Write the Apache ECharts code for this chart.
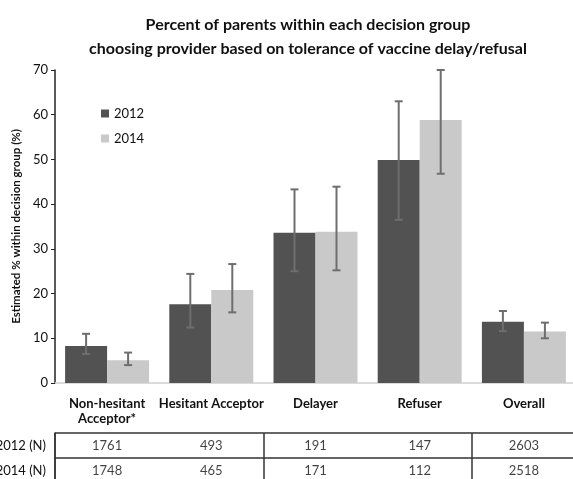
<!DOCTYPE html>
<html>
<head>
<meta charset="utf-8">
<script src="https://cdn.jsdelivr.net/npm/echarts@6/dist/echarts.min.js"></script>
<style>
  html, body { margin: 0; padding: 0; background: #fff; }
  #main { width: 573px; height: 479px; }
</style>
</head>
<body>
<div id="main"></div>
<script>
var categories = ["Non-hesitant\nAcceptor*", "Hesitant Acceptor", "Delayer", "Refuser", "Overall"];
var years = ["2012", "2014"];
var pct2012 = [8.3, 17.6, 33.6, 49.9, 13.7];
var pct2014 = [5.1, 20.8, 33.8, 58.8, 11.5];
// confidence interval bounds
var low2012 = [6.5, 12.4, 25.0, 36.5, 11.6];
var high2012 = [11.0, 24.4, 43.3, 63.0, 16.1];
var low2014 = [4.0, 15.8, 25.2, 46.8, 10.0];
var high2014 = [6.8, 26.6, 43.9, 70.0, 13.5];
// sample sizes for the table
var tableRows = ["2012 (N)", "2014 (N)"];
var n2012 = [1761, 493, 191, 147, 2603];
var n2014 = [1748, 465, 171, 112, 2518];
var yTicks = { min: 0, max: 70, interval: 10 };

var font = "Lato, 'Open Sans', sans-serif";

function errData(low, high) {
  return low.map(function (v, i) {
    return [i, v, high[i]];
  });
}

function errorBar(offset) {
  return function (params, api) {
    var x = api.coord([api.value(0), 0])[0] + offset;
    var lo = api.coord([api.value(0), api.value(1)])[1];
    var hi = api.coord([api.value(0), api.value(2)])[1];
    var cap = 4;
    var style = { stroke: "#6e6e6e", lineWidth: 2 };
    return {
      type: "group",
      children: [
        { type: "line", shape: { x1: x, y1: hi, x2: x, y2: lo }, style: style },
        { type: "line", shape: { x1: x - cap, y1: hi, x2: x + cap, y2: hi }, style: style },
        { type: "line", shape: { x1: x - cap, y1: lo, x2: x + cap, y2: lo }, style: style },
      ],
    };
  };
}

var tableData = [];
for (var i = 0; i < categories.length; i++) {
  tableData.push([i, 0, n2012[i]]);
  tableData.push([i, 1, n2014[i]]);
}

var myChart = echarts.init(document.getElementById("main"));
var option = {
  animation: false,
  textStyle: { fontFamily: font },
  title: {
    text: "Percent of parents within each decision group\nchoosing provider based on tolerance of vaccine delay/refusal",
    left: 303,
    top: 8,
    textAlign: "center",
    textStyle: { fontSize: 16, fontWeight: "bold", color: "#111", lineHeight: 24, fontFamily: font },
  },
  legend: {
    data: years,
    orient: "vertical",
    left: 96,
    top: 102,
    icon: "rect",
    itemWidth: 8,
    itemHeight: 8,
    itemGap: 12,
    textStyle: { fontSize: 13, color: "#111", fontFamily: font },
  },
  grid: [
    { left: 55, top: 70, width: 521, height: 313, outerBoundsMode: "none" },
    { left: 55, top: 433, width: 521, height: 50, outerBoundsMode: "none" },
  ],
  xAxis: [
    {
      type: "category",
      gridIndex: 0,
      data: categories,
      axisLine: { lineStyle: { color: "#cfcfcf", width: 1.5 } },
      axisTick: { show: false },
      axisLabel: { fontSize: 13, fontWeight: "bold", color: "#111", margin: 13, lineHeight: 15, interval: 0 },
    },
    {
      type: "category",
      gridIndex: 1,
      data: categories,
      axisLine: { show: false },
      axisTick: { show: false },
      axisLabel: { show: false },
      splitLine: { show: true, lineStyle: { color: "#333", width: 1.5 } },
    },
  ],
  yAxis: [
    {
      type: "value",
      gridIndex: 0,
      min: yTicks.min,
      max: yTicks.max,
      interval: yTicks.interval,
      name: "Estimated % within decision group (%)",
      nameLocation: "middle",
      nameGap: 29,
      nameTextStyle: { fontSize: 11.5, fontWeight: "bold", color: "#111" },
      axisLine: { show: true, lineStyle: { color: "#222", width: 1.5 } },
      axisTick: { show: true, length: 4, lineStyle: { color: "#222" } },
      axisLabel: { fontSize: 13, color: "#111", margin: 7 },
      splitLine: { show: false },
    },
    {
      type: "category",
      gridIndex: 1,
      inverse: true,
      data: tableRows,
      axisLine: { show: true, lineStyle: { color: "#333", width: 1.5 } },
      axisTick: { show: false },
      axisLabel: { fontSize: 13, color: "#111", margin: 9 },
      splitLine: { show: true, lineStyle: { color: "#333", width: 1.5 } },
    },
  ],
  series: [
    {
      name: "2012",
      type: "bar",
      data: pct2012,
      barWidth: 42,
      barGap: "0%",
      itemStyle: { color: "#525252" },
    },
    {
      name: "2014",
      type: "bar",
      data: pct2014,
      barWidth: 42,
      barGap: "0%",
      itemStyle: { color: "#c9c9c9" },
    },
    {
      type: "custom",
      renderItem: errorBar(-21),
      data: errData(low2012, high2012),
      encode: { x: 0, y: [1, 2] },
      z: 5,
      clip: false,
    },
    {
      type: "custom",
      renderItem: errorBar(21),
      data: errData(low2014, high2014),
      encode: { x: 0, y: [1, 2] },
      z: 5,
      clip: false,
    },
    {
      type: "scatter",
      xAxisIndex: 1,
      yAxisIndex: 1,
      symbolSize: 0,
      data: tableData,
      label: {
        show: true,
        position: "inside",
        formatter: function (p) {
          return p.value[2];
        },
        fontSize: 13,
        color: "#111",
      },
    },
  ],
};
myChart.setOption(option);
</script>
</body>
</html>
